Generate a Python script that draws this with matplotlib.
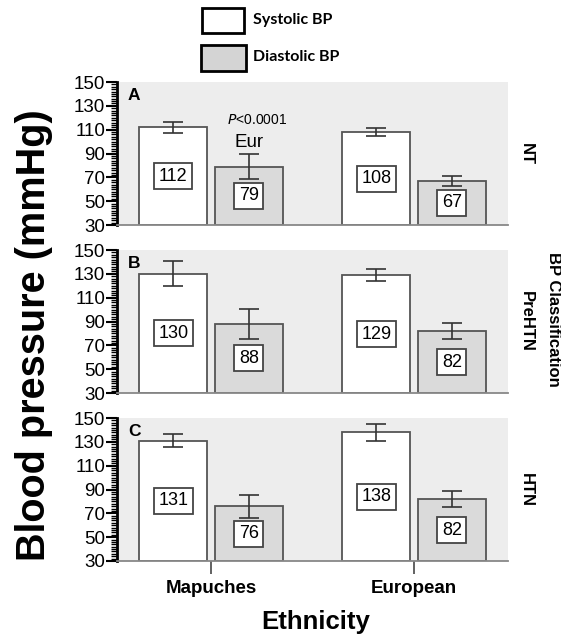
import numpy as np
import matplotlib
matplotlib.use("Agg")
import matplotlib.pyplot as plt
from matplotlib.patches import Rectangle
from matplotlib.ticker import MultipleLocator

# data
ethnicity = ["Mapuches", "European"]
panels = ["A", "B", "C"]
bp_class = ["NT", "PreHTN", "HTN"]
systolic = [[112, 108], [130, 129], [131, 138]]
systolic_err = [[4.5, 3.3], [10.5, 5.0], [5.5, 7.0]]
diastolic = [[79, 67], [88, 82], [76, 82]]
diastolic_err = [[10.5, 4.0], [12.5, 7.0], [9.5, 6.5]]
yticks = [30, 50, 70, 90, 110, 130, 150]

SANS = ["Liberation Sans", "DejaVu Sans"]
LEGEND_FONT = ["Lato", "DejaVu Sans"]
BG = "#ededed"
DIA_COLOR = "#dadada"
EDGE = "#555555"

plt.rcParams["font.family"] = SANS

fig = plt.figure(figsize=(5.61, 6.38), dpi=100)

left, width, height = 0.2086, 0.697, 0.2241
bottoms = [0.6473, 0.3840, 0.1207]

x = np.arange(len(ethnicity))
bw = 0.335
off = 0.186

axes = []
for i, b in enumerate(bottoms):
    ax = fig.add_axes([left, b, width, height])
    axes.append(ax)
    ax.set_facecolor(BG)
    ax.set_xlim(-0.463, 1.463)
    ax.set_ylim(30, 150)

    ax.bar(x - off, np.array(systolic[i]) - 30, bw, bottom=30, color="white",
           edgecolor=EDGE, linewidth=1.3, zorder=2)
    ax.bar(x + off, np.array(diastolic[i]) - 30, bw, bottom=30, color=DIA_COLOR,
           edgecolor=EDGE, linewidth=1.3, zorder=2)
    ax.errorbar(x - off, systolic[i], yerr=systolic_err[i], fmt="none",
                ecolor="#333333", elinewidth=1.2, capsize=7.5, capthick=1.2, zorder=3)
    ax.errorbar(x + off, diastolic[i], yerr=diastolic_err[i], fmt="none",
                ecolor="#333333", elinewidth=1.2, capsize=7.5, capthick=1.2, zorder=3)

    # value boxes at mid-height of each bar
    for xi, v in zip(x - off, systolic[i]):
        ax.text(xi, (30 + v) / 2, str(v), ha="center", va="center", fontsize=13,
                zorder=4, bbox=dict(boxstyle="square,pad=0.25", fc="white",
                                    ec="#444444", lw=1.3))
    for xi, v in zip(x + off, diastolic[i]):
        ax.text(xi, (30 + v) / 2, str(v), ha="center", va="center", fontsize=13,
                zorder=4, bbox=dict(boxstyle="square,pad=0.25", fc="white",
                                    ec="#444444", lw=1.3))

    ax.text(0.028, 0.96, panels[i], transform=ax.transAxes, fontsize=12.5,
            fontweight="bold", va="top", ha="left")
    ax.text(1.047, 0.5, bp_class[i], transform=ax.transAxes, rotation=-90,
            ha="center", va="center", fontsize=12, fontweight="bold")

    ax.spines["top"].set_visible(False)
    ax.spines["right"].set_visible(False)
    ax.spines["left"].set_linewidth(2)
    ax.spines["left"].set_color("black")
    ax.spines["bottom"].set_color("#888888")
    ax.spines["bottom"].set_linewidth(1.3)

    ax.set_yticks(yticks)
    ax.yaxis.set_minor_locator(MultipleLocator(2))
    ax.tick_params(axis="y", which="major", length=8, width=1.5, labelsize=13.5,
                   pad=0.5)
    ax.tick_params(axis="y", which="minor", length=4, width=1)
    ax.set_xticks(x)
    if i < 2:
        ax.tick_params(axis="x", length=0, labelbottom=False)
    else:
        ax.set_xticklabels(ethnicity, fontsize=13.5, fontweight="bold")
        ax.tick_params(axis="x", length=9, width=1.3, color="#555555", pad=5)

# annotation in panel A
axes[0].text(x[0] + off + 0.04, 118, "$\\it{P}$<0.0001", ha="center", va="center",
             fontsize=10)
axes[0].text(x[0] + off, 99, "Eur", ha="center", va="center", fontsize=13.5)

fig.text(0.987, 0.5, "BP Classification", rotation=-90, ha="center", va="center",
         fontsize=12, fontweight="bold")
fig.text(0.06, 0.475, "Blood pressure (mmHg)", rotation=90, ha="center",
         va="center", fontsize=28.5, fontweight="bold")
fig.text(0.563, 0.025, "Ethnicity", ha="center", va="center", fontsize=18.5,
         fontweight="bold")

# legend boxes drawn at the top
fig.patches.append(Rectangle((0.360, 0.9483), 0.0749, 0.0392, transform=fig.transFigure,
                             fc="white", ec="black", lw=2))
fig.patches.append(Rectangle((0.358, 0.889), 0.080, 0.040, transform=fig.transFigure,
                             fc="#d4d4d4", ec="black", lw=2))
fig.text(0.451, 0.968, "Systolic BP", ha="left", va="center", fontsize=11.5,
         fontweight="bold", family=LEGEND_FONT)
fig.text(0.451, 0.910, "Diastolic BP", ha="left", va="center", fontsize=11.5,
         fontweight="bold", family=LEGEND_FONT)

fig.savefig("out.png", dpi=100)
